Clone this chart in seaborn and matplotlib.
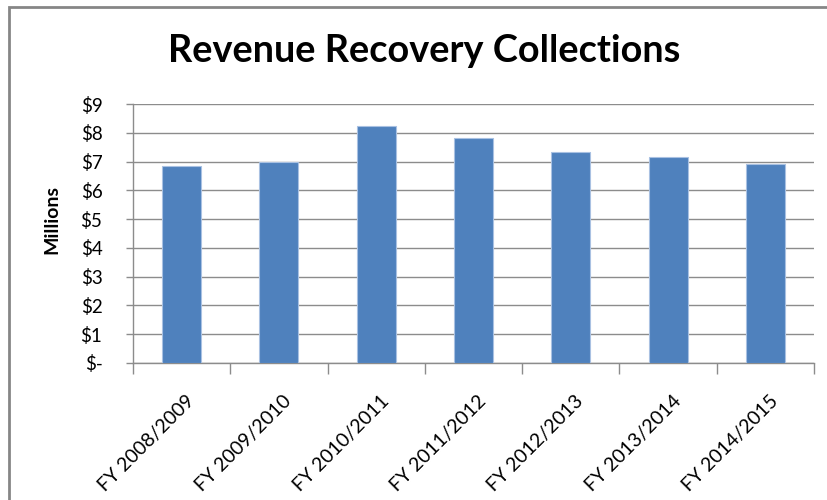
import matplotlib
matplotlib.use("Agg")
import matplotlib.pyplot as plt
import matplotlib.transforms as mtransforms
import seaborn as sns
import pandas as pd

fiscal_years = ["FY 2008/2009", "FY 2009/2010", "FY 2010/2011", "FY 2011/2012",
                "FY 2012/2013", "FY 2013/2014", "FY 2014/2015"]
collections_millions = [6.85, 7.0, 8.25, 7.83, 7.32, 7.17, 6.90]
y_ticks = [0, 1, 2, 3, 4, 5, 6, 7, 8, 9]
y_tick_labels = ["$-", "$1", "$2", "$3", "$4", "$5", "$6", "$7", "$8", "$9"]

df = pd.DataFrame({"year": fiscal_years, "value": collections_millions})

sns.set_theme(style="white")
plt.rcParams["font.family"] = ["Lato", "DejaVu Sans"]

fig = plt.figure(figsize=(8.27, 5.0), dpi=100)
ax = fig.add_axes([133 / 827, 1 - 363 / 500, (814 - 133) / 827, (363 - 104) / 500])

sns.barplot(data=df, x="year", y="value", color="#4F81BD", saturation=1,
            width=0.4, edgecolor="#A9C1E2", linewidth=0.8, ax=ax, zorder=3)

ax.set_xlim(-0.5, len(fiscal_years) - 0.5)
ax.set_ylim(0, 9)
ax.set_yticks(y_ticks)
ax.set_yticklabels(y_tick_labels)
ax.yaxis.grid(True, color="#8C8C8C", linewidth=1.0, zorder=0)
ax.set_axisbelow(True)

for side in ["top", "right"]:
    ax.spines[side].set_visible(False)
for side in ["left", "bottom"]:
    ax.spines[side].set_color("#8C8C8C")
    ax.spines[side].set_linewidth(1.0)

ax.tick_params(axis="y", which="major", length=5, width=1.0, color="#8C8C8C",
               left=True, labelsize=13.5, pad=17, labelcolor="black")
# category boundaries get the x tick marks
ax.set_xticks([i - 0.5 for i in range(len(fiscal_years) + 1)], minor=True)
ax.tick_params(axis="x", which="minor", length=8, width=1.0, color="#8C8C8C", bottom=True)
ax.tick_params(axis="x", which="major", length=0, labelsize=14, pad=21, labelcolor="black")
ax.set_xticks(range(len(fiscal_years)))
ax.set_xticklabels(fiscal_years, rotation=45, ha="right", rotation_mode="anchor")
offset = mtransforms.ScaledTranslation(4 / 100, 0, fig.dpi_scale_trans)
for lbl in ax.get_xticklabels():
    lbl.set_transform(lbl.get_transform() + offset)

ax.set_xlabel("")
ax.set_ylabel("")
fig.text(52 / 827, 1 - 220 / 500, "Millions", rotation=90, ha="center", va="center",
         fontsize=14, fontweight="bold", color="black")
fig.text(424 / 827, 1 - 51 / 500, "Revenue Recovery Collections", ha="center", va="center",
         fontsize=27.3, fontweight="bold", color="black")

# chart frame
frame = plt.Rectangle((9 / 827, -0.1), 1.2, 1 - 7 / 500 + 0.1, transform=fig.transFigure,
                      fill=False, edgecolor="#868686", linewidth=2.0)
fig.add_artist(frame)

fig.savefig("out.png", dpi=100)
